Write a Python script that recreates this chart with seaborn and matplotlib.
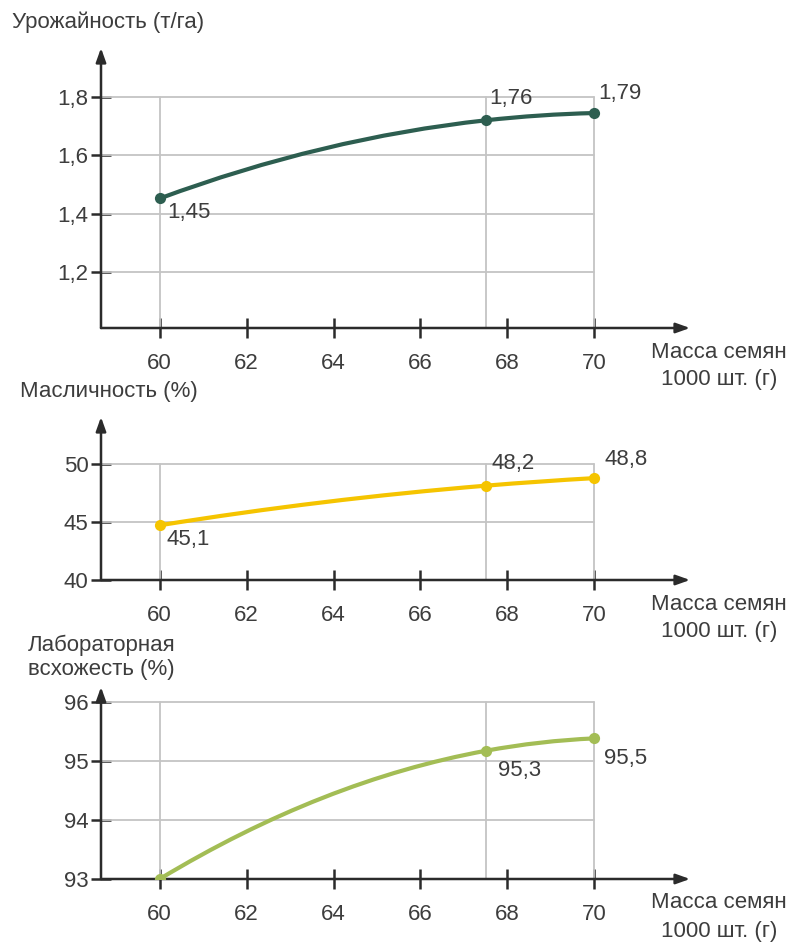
import numpy as np
import pandas as pd
import matplotlib
matplotlib.use("Agg")
import matplotlib.pyplot as plt
import seaborn as sns
from matplotlib.path import Path
from matplotlib.patches import PathPatch

sns.set_theme(style="white")
plt.rcParams['font.family'] = ['Liberation Sans', 'DejaVu Sans']

# ---- data ----
mass = [60, 67.5, 70]
x_ticks = [60, 62, 64, 66, 68, 70]

yield_vals = [1.452, 1.72, 1.745]
yield_labels = ["1,45", "1,76", "1,79"]
yield_ticks = [1.2, 1.4, 1.6, 1.8]
yield_ticklabels = ["1,2", "1,4", "1,6", "1,8"]

oil_vals = [44.7, 48.1, 48.75]
oil_labels = ["45,1", "48,2", "48,8"]
oil_ticks = [40, 45, 50]
oil_ticklabels = ["40", "45", "50"]

germ_vals = [93.0, 95.17, 95.38]
germ_labels = ["", "95,3", "95,5"]
germ_ticks = [93, 94, 95, 96]
germ_ticklabels = ["93", "94", "95", "96"]

TEXT = "#3d3d3d"
AX = "#2b2b2b"
GRID = "#c4c4c4"
FS = 16

W, H = 795, 943
fig = plt.figure(figsize=(W / 100, H / 100), dpi=100)
PX = 0.72  # points per pixel


def px_axes(left, right, top, bottom):
    return fig.add_axes([left / W, 1 - bottom / H, (right - left) / W, (bottom - top) / H])


def smooth_path(ax, xs, ys, color):
    # cubic Hermite segments with tangents from the 3-point parabola
    x0, x1, x2 = xs
    y0, y1, y2 = ys
    f01 = (y1 - y0) / (x1 - x0)
    f12 = (y2 - y1) / (x2 - x1)
    f012 = (f12 - f01) / (x2 - x0)

    def d(x):
        return f01 + f012 * ((x - x0) + (x - x1))
    verts, codes = [(x0, y0)], [Path.MOVETO]
    for (xa, ya), (xb, yb) in [((x0, y0), (x1, y1)), ((x1, y1), (x2, y2))]:
        h = xb - xa
        verts += [(xa + h / 3, ya + d(xa) * h / 3), (xb - h / 3, yb - d(xb) * h / 3), (xb, yb)]
        codes += [Path.CURVE4] * 3
    ax.add_patch(PathPatch(Path(verts, codes), fill=False, edgecolor=color, lw=3.0,
                           capstyle='round', zorder=4))


def panel(ax, bottom_px, vals, labels, color, yticks, yticklabels, ylim, label_offsets):
    xlim = (58.65, 72.2)
    ax.set_xlim(*xlim)
    ax.set_ylim(*ylim)
    top = yticks[-1]
    # grid
    for yt in yticks:
        if yt > ylim[0] + 1e-9:
            ax.plot([xlim[0], 70], [yt, yt], color=GRID, lw=1.3, zorder=1)
    for xv in mass:
        ax.plot([xv, xv], [ylim[0], top], color=GRID, lw=1.3, zorder=1)
    df = pd.DataFrame({"x": mass, "y": vals})
    smooth_path(ax, mass, vals, color)
    sns.scatterplot(data=df, x="x", y="y", ax=ax, color=color, s=65, edgecolor=color,
                    linewidth=0, zorder=5, legend=False)
    for xv, yv, lab, (dx, dy) in zip(mass, vals, labels, label_offsets):
        if lab:
            ax.annotate(lab, (xv, yv), xytext=(dx * PX, dy * PX), textcoords="offset points",
                        ha="left", va="center", fontsize=FS, color=TEXT, zorder=6)
    for s in ax.spines.values():
        s.set_visible(False)
    # axes with arrows
    ax.annotate("", xy=(xlim[1], ylim[0]), xytext=(xlim[0], ylim[0]),
                arrowprops=dict(arrowstyle="-|>,head_length=0.7,head_width=0.25",
                                color=AX, lw=1.8, shrinkA=0, shrinkB=0), annotation_clip=False)
    ax.annotate("", xy=(xlim[0], ylim[1]), xytext=(xlim[0], ylim[0]),
                arrowprops=dict(arrowstyle="-|>,head_length=0.7,head_width=0.25",
                                color=AX, lw=1.8, shrinkA=0, shrinkB=0), annotation_clip=False)
    ax.set_xticks(x_ticks)
    ax.set_xticklabels([str(t) for t in x_ticks])
    ax.set_yticks(yticks)
    ax.set_yticklabels(yticklabels)
    ax.tick_params(axis="both", direction="inout", length=14, width=1.8, color=AX,
                   labelsize=FS, labelcolor=TEXT)
    ax.tick_params(axis="x", pad=11)
    ax.tick_params(axis="y", pad=2)
    ax.xaxis.set_ticks_position("bottom")
    ax.yaxis.set_ticks_position("left")
    ax.set_xlabel("")
    ax.set_ylabel("")
    ax.patch.set_alpha(0)
    fig.text(719 / W, 1 - (bottom_px + 24) / H, "Масса семян", ha="center", va="center",
             fontsize=FS, color=TEXT)
    fig.text(719 / W, 1 - (bottom_px + 52) / H, "1000 шт. (г)", ha="center", va="center",
             fontsize=FS, color=TEXT)


ax1 = px_axes(101, 690, 48, 328)
panel(ax1, 328, yield_vals, yield_labels, "#2d5e50", yield_ticks, yield_ticklabels, (1.008, 1.968),
      [(8, -14), (4, 22), (4, 20)])
fig.text(12 / W, 1 - 22 / H, "Урожайность (т/га)", ha="left", va="center", fontsize=FS, color=TEXT)

ax2 = px_axes(101, 690, 417, 580)
panel(ax2, 580, oil_vals, oil_labels, "#f5c400", oil_ticks, oil_ticklabels, (40, 54.0),
      [(7, -14), (6, 22), (10, 19)])
fig.text(20 / W, 1 - 392 / H, "Масличность (%)", ha="left", va="center", fontsize=FS, color=TEXT)

ax3 = px_axes(101, 690, 687, 879)
panel(ax3, 879, germ_vals, germ_labels, "#a3bd55", germ_ticks, germ_ticklabels, (93, 96.25),
      [(0, 0), (12, -20), (10, -20)])
fig.text(28 / W, 1 - 645 / H, "Лабораторная", ha="left", va="center", fontsize=FS, color=TEXT)
fig.text(28 / W, 1 - 670 / H, "всхожесть (%)", ha="left", va="center", fontsize=FS, color=TEXT)

fig.savefig("out.png", dpi=100, facecolor="white")
